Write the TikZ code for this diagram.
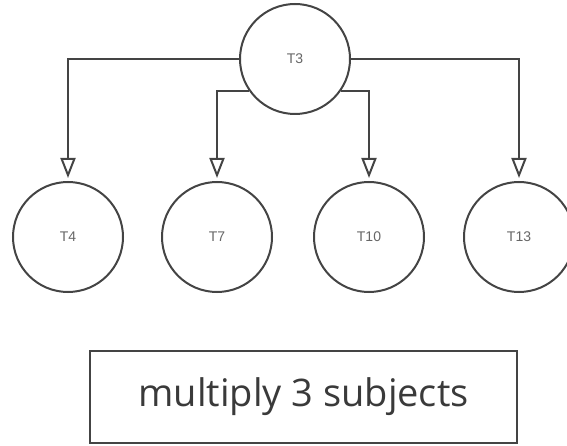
\documentclass[tikz,border=0pt]{standalone}
\usepackage{fontspec}
\setmainfont{Open Sans}
\newfontfamily\labelfont{Liberation Sans}
\usetikzlibrary{arrows.meta}
\definecolor{edgegray}{HTML}{444444}
\definecolor{labelgray}{HTML}{666666}
\definecolor{notegray}{HTML}{3A3A3A}
\tikzset{
  task/.style={draw=edgegray, line width=2pt, circle, minimum size=110pt, inner sep=0pt,
    font=\labelfont\fontsize{14}{16}\selectfont, text=labelgray},
  link/.style={draw=edgegray, line width=2pt, -{Triangle[open, length=20pt, width=15pt]}, shorten >=3pt},
}
\begin{document}
\begin{tikzpicture}[x=1pt, y=-1pt]
    \useasboundingbox (0,0) rectangle (567,446);
    \node[task] (t3) at (295,59) {T3};
    \foreach \name/\x/\lbl in {
        t4/68/T4,
        t7/217/T7,
        t10/369/T10,
        t13/519/T13}{
            \node[task] (\name) at (\x,237) {\lbl};
    }
    \draw[link] (t3.west) -| (t4.north);
    \draw[link] (t3.215) -| (t7.north);
    \draw[link] (t3.325) -| (t10.north);
    \draw[link] (t3.east) -| (t13.north);
    % \draw[link] (t3.south) -- (note.north);
    \node[draw=edgegray, line width=2pt, minimum width=427pt, minimum height=92pt, inner sep=0pt,
        font=\fontsize{38}{41}\selectfont, text=notegray] (note) at (303.5,397) {multiply 3 subjects};
\end{tikzpicture}
\end{document}
